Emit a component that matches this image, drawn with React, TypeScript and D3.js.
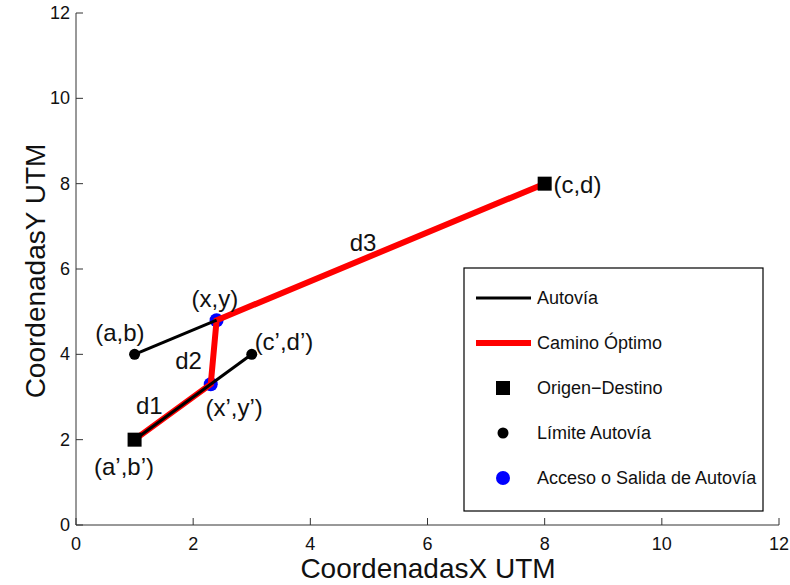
import React from "react";
import * as d3 from "d3";

const W = 790, H = 585;
const ticks = [0, 2, 4, 6, 8, 10, 12];

// Highway segments (Autovía)
const autovia1 = [[1, 4], [2.4, 4.8]];
const autovia2 = [[1, 2], [3, 4]];
// Optimal path
const camino = [[1, 2], [2.3, 3.3], [2.4, 4.8], [8, 8]];
// Origin / destination
const origenDestino = [[1, 2], [8, 8]];
// Highway limits
const limites = [[1, 4], [3, 4]];
// Access / exit
const accesos = [[2.4, 4.8], [2.3, 3.3]];
// Annotations: [x, y, text, anchor]
const labels: [number, number, string, string][] = [
  [0.75, 4.5, "(a,b)", "middle"],
  [2.37, 5.3, "(x,y)", "middle"],
  [3.55, 4.3, "(c\u2019,d\u2019)", "middle"],
  [1.92, 3.85, "d2", "middle"],
  [1.25, 2.8, "d1", "middle"],
  [2.7, 2.75, "(x\u2019,y\u2019)", "middle"],
  [0.82, 1.35, "(a\u2019,b\u2019)", "middle"],
  [8.15, 7.98, "(c,d)", "start"],
  [4.9, 6.6, "d3", "middle"],
];
const legendItems = ["Autovía", "Camino Óptimo", "Origen\u2212Destino", "Límite Autovía", "Acceso o Salida de Autovía"];

export default function App() {
  const x = d3.scaleLinear().domain([0, 12]).range([76, 779]);
  const y = d3.scaleLinear().domain([0, 12]).range([525, 13]);
  const line = d3.line<number[]>().x(d => x(d[0])).y(d => y(d[1]));
  const font = "Arial, 'Liberation Sans', Helvetica, sans-serif";
  const lx = 464, ly = 268, lw = 299, lh = 243;
  const rows = [298, 343, 388, 433, 478];
  return (
    <svg width={W} height={H} style={{ position: "absolute", left: 0, top: 0 }} fontFamily={font}>
      <rect width={W} height={H} fill="#fff" />
      {/* axes */}
      <line x1={x(0)} x2={x(12)} y1={y(0)} y2={y(0)} stroke="#333" strokeWidth={1} />
      <line x1={x(0)} x2={x(0)} y1={y(0)} y2={y(12)} stroke="#333" strokeWidth={1} />
      {ticks.map(t => (
        <g key={"x" + t}>
          <line x1={x(t)} x2={x(t)} y1={y(0)} y2={y(0) - 7} stroke="#333" />
          <text x={x(t)} y={y(0) + 25} textAnchor="middle" fontSize={18} fill="#111">{t}</text>
        </g>
      ))}
      {ticks.map(t => (
        <g key={"y" + t}>
          <line x1={x(0)} x2={x(0) + 7} y1={y(t)} y2={y(t)} stroke="#333" />
          <text x={x(0) - 6} y={y(t) + 6} textAnchor="end" fontSize={18} fill="#111">{t}</text>
        </g>
      ))}
      <text x={428} y={578} textAnchor="middle" fontSize={28} fill="#111">CoordenadasX UTM</text>
      <text transform={`translate(45,271) rotate(-90)`} textAnchor="middle" fontSize={28} fill="#111">CoordenadasY UTM</text>

      {/* data */}
      {accesos.map((p, i) => (
        <circle key={"a" + i} cx={x(p[0])} cy={y(p[1])} r={7} fill="#0000ff" />
      ))}
      <path d={line(camino as any) || ""} fill="none" stroke="#ff0000" strokeWidth={6} strokeLinejoin="miter" />
      <path d={line(autovia1 as any) || ""} fill="none" stroke="#000" strokeWidth={3} />
      <path d={line(autovia2 as any) || ""} fill="none" stroke="#000" strokeWidth={3} />
      {limites.map((p, i) => (
        <circle key={"l" + i} cx={x(p[0])} cy={y(p[1])} r={5.5} fill="#000" />
      ))}
      {origenDestino.map((p, i) => (
        <rect key={"o" + i} x={x(p[0]) - 7} y={y(p[1]) - 7} width={14} height={14} fill="#000" />
      ))}
      {labels.map((l, i) => (
        <text key={"t" + i} x={x(l[0])} y={y(l[1]) + 8} textAnchor={l[3] as any} fontSize={24} fill="#111">{l[2]}</text>
      ))}

      {/* legend */}
      <rect x={lx} y={ly} width={lw} height={lh} fill="#fff" stroke="#000" strokeWidth={1.2} />
      <line x1={476} x2={531} y1={rows[0]} y2={rows[0]} stroke="#000" strokeWidth={3} />
      <line x1={476} x2={531} y1={rows[1]} y2={rows[1]} stroke="#ff0000" strokeWidth={6} />
      <rect x={503 - 7} y={rows[2] - 7} width={14} height={14} fill="#000" />
      <circle cx={503} cy={rows[3]} r={5.5} fill="#000" />
      <circle cx={503} cy={rows[4]} r={7} fill="#0000ff" />
      {legendItems.map((t, i) => (
        <text key={"lg" + i} x={537} y={rows[i] + 6} fontSize={18} fill="#111">{t}</text>
      ))}
    </svg>
  );
}
